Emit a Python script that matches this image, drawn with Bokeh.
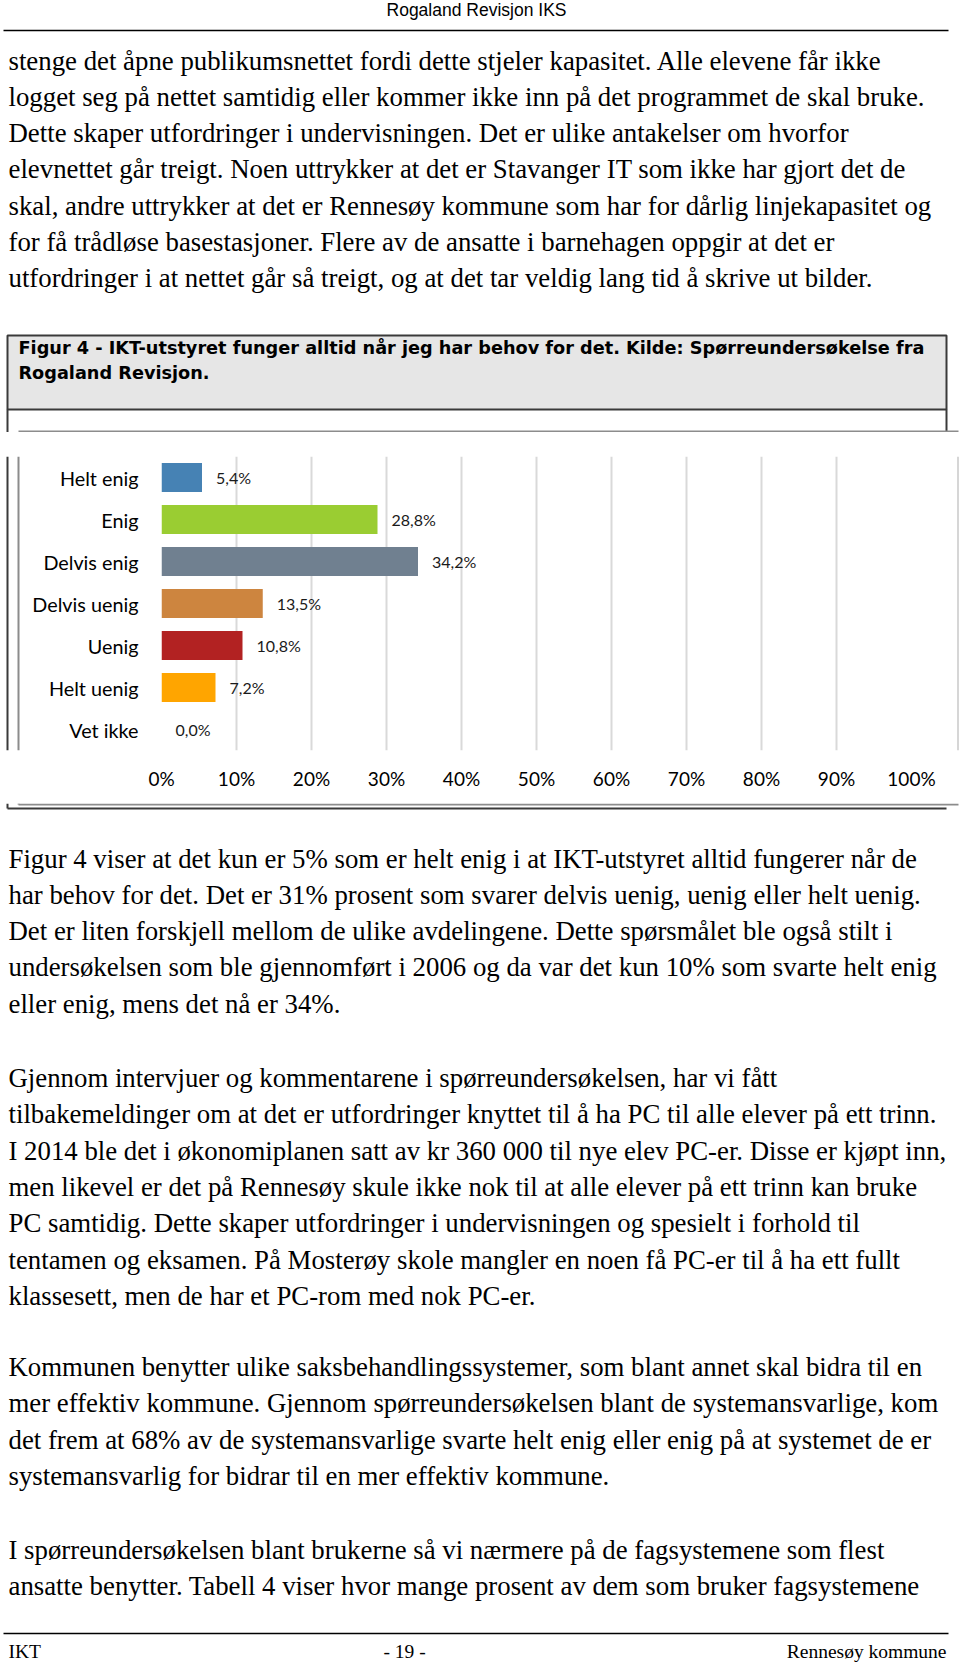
from bokeh.plotting import figure
from bokeh.models import Range1d, FactorRange, FixedTicker, PrintfTickFormatter, ColumnDataSource
from bokeh.layouts import column, row
from bokeh.embed import file_html
from bokeh.resources import INLINE
from bokeh.core.properties import value

# ---------------- data ----------------
categories = ["Helt enig", "Enig", "Delvis enig", "Delvis uenig", "Uenig", "Helt uenig", "Vet ikke"]
percentages = [5.4, 28.8, 34.2, 13.5, 10.8, 7.2, 0.0]
bar_colors = ["steelblue", "yellowgreen", "slategray", "peru", "firebrick", "orange", "orange"]
x_ticks = [0, 10, 20, 30, 40, 50, 60, 70, 80, 90, 100]

header_text = "Rogaland Revisjon IKS"
top_lines = [
    "stenge det åpne publikumsnettet fordi dette stjeler kapasitet. Alle elevene får ikke",
    "logget seg på nettet samtidig eller kommer ikke inn på det programmet de skal bruke.",
    "Dette skaper utfordringer i undervisningen. Det er ulike antakelser om hvorfor",
    "elevnettet går treigt. Noen uttrykker at det er Stavanger IT som ikke har gjort det de",
    "skal, andre uttrykker at det er Rennesøy kommune som har for dårlig linjekapasitet og",
    "for få trådløse basestasjoner. Flere av de ansatte i barnehagen oppgir at det er",
    "utfordringer i at nettet går så treigt, og at det tar veldig lang tid å skrive ut bilder.",
]
caption_lines = [
    "Figur 4 - IKT-utstyret funger alltid når jeg har behov for det. Kilde: Spørreundersøkelse fra",
    "Rogaland Revisjon.",
]
para1 = [
    "Figur 4 viser at det kun er 5% som er helt enig i at IKT-utstyret alltid fungerer når de",
    "har behov for det. Det er 31% prosent som svarer delvis uenig, uenig eller helt uenig.",
    "Det er liten forskjell mellom de ulike avdelingene. Dette spørsmålet ble også stilt i",
    "undersøkelsen som ble gjennomført i 2006 og da var det kun 10% som svarte helt enig",
    "eller enig, mens det nå er 34%.",
]
para2 = [
    "Gjennom intervjuer og kommentarene i spørreundersøkelsen, har vi fått",
    "tilbakemeldinger om at det er utfordringer knyttet til å ha PC til alle elever på ett trinn.",
    "I 2014 ble det i økonomiplanen satt av kr 360 000 til nye elev PC-er. Disse er kjøpt inn,",
    "men likevel er det på Rennesøy skule ikke nok til at alle elever på ett trinn kan bruke",
    "PC samtidig. Dette skaper utfordringer i undervisningen og spesielt i forhold til",
    "tentamen og eksamen. På Mosterøy skole mangler en noen få PC-er til å ha ett fullt",
    "klassesett, men de har et PC-rom med nok PC-er.",
]
para3 = [
    "Kommunen benytter ulike saksbehandlingssystemer, som blant annet skal bidra til en",
    "mer effektiv kommune. Gjennom spørreundersøkelsen blant de systemansvarlige, kom",
    "det frem at 68% av de systemansvarlige svarte helt enig eller enig på at systemet de er",
    "systemansvarlig for bidrar til en mer effektiv kommune.",
]
para4 = [
    "I spørreundersøkelsen blant brukerne så vi nærmere på de fagsystemene som flest",
    "ansatte benytter. Tabell 4 viser hvor mange prosent av dem som bruker fagsystemene",
]
footer_left, footer_mid, footer_right = "IKT", "- 19 -", "Rennesøy kommune"

# ---------------- styling ----------------
SERIF = "Liberation Serif"
BODY_SIZE = 26.8
LINE_H = 36.3
DARK = "#3a3a3a"
GREY = "#8c8c8c"


def page_fig(y0, y1, x0=0, x1=960):
    f = figure(width=int(x1 - x0), height=int(y1 - y0), x_range=Range1d(x0, x1),
               y_range=Range1d(y1, y0), output_backend="svg", toolbar_location=None,
               min_border=0, outline_line_color=None, background_fill_color="white",
               border_fill_color="white")
    f.axis.visible = False
    f.grid.visible = False
    return f


def body_lines(f, lines, y_first, x=8):
    ys = [y_first + i * LINE_H for i in range(len(lines))]
    f.text(x=[x] * len(lines), y=ys, text=lines, text_font=value(SERIF),
           text_font_size=f"{BODY_SIZE}px", text_align="left", text_baseline="alphabetic",
           text_color="black")


# ---------------- top part (page y 0..432) ----------------
top = page_fig(0, 432)
top.text(x=[476], y=[9], text=[header_text], text_font=value("Liberation Sans"),
         text_font_size="17.5px", text_align="center", text_baseline="middle", text_color="black")
top.segment(x0=[3], y0=[30], x1=[948], y1=[30], line_color="black", line_width=1.5)
body_lines(top, top_lines, 60)
# caption box
top.quad(left=[7], right=[946], top=[335], bottom=[409], fill_color="#e6e6e6",
         line_color=DARK, line_width=2)
top.text(x=[18, 18], y=[347, 372.5], text=caption_lines, text_font=value("DejaVu Sans"),
         text_font_style="bold", text_font_size="17.7px", text_align="left",
         text_baseline="middle", text_color="black")
# outer frame sides below caption
top.segment(x0=[7, 946], y0=[409, 409], x1=[7, 946], y1=[432, 431], line_color=DARK, line_width=2)
# chart frame top line
top.segment(x0=[18], y0=[431], x1=[958], y1=[431], line_color=GREY, line_width=2)

# ---------------- chart row (page y 432..803) ----------------
strip_l = page_fig(432, 803, 0, 20)
strip_l.segment(x0=[7, 18], y0=[432, 432], x1=[7, 18], y1=[803, 803],
                line_color=[DARK, GREY], line_width=2)
strip_r = page_fig(432, 803, 950, 960)
strip_r.segment(x0=[957.5], y0=[432], x1=[957.5], y1=[803], line_color="#c8c8c8", line_width=1.5)

src = ColumnDataSource(dict(cat=categories, val=percentages, color=bar_colors,
                            label=[f"{v:.1f}%".replace(".", ",") for v in percentages]))

chart = figure(width=930, height=371, y_range=FactorRange(factors=list(reversed(categories)),
               range_padding=0), x_range=Range1d(0, 100), output_backend="svg",
               toolbar_location=None, min_border_left=141, min_border_right=39,
               min_border_top=24, min_border_bottom=53, outline_line_color=None,
               background_fill_color="white", border_fill_color="white")
chart.hbar(y="cat", right="val", left=0, height=0.69, fill_color="color", line_color=None,
           source=src)
chart.text(x="val", y="cat", text="label", source=src, x_offset=14, text_align="left",
           text_baseline="middle", text_font=value("Lato"), text_font_size="16px",
           text_color="#1a1a1a")

chart.xaxis.ticker = FixedTicker(ticks=x_ticks)
chart.xaxis.formatter = PrintfTickFormatter(format="%d%%")
chart.xaxis.axis_line_color = None
chart.xaxis.major_tick_line_color = None
chart.xaxis.minor_tick_line_color = None
chart.xaxis.major_label_standoff = 10
chart.xaxis.major_label_text_font = "Lato"
chart.xaxis.major_label_text_font_size = "19px"
chart.xaxis.major_label_text_color = "black"

chart.yaxis.axis_line_color = None
chart.yaxis.major_tick_line_color = None
chart.yaxis.minor_tick_line_color = None
chart.yaxis.major_label_standoff = 17
chart.yaxis.major_label_text_font = "Lato"
chart.yaxis.major_label_text_font_size = "19.8px"
chart.yaxis.major_label_text_color = "black"

chart.xgrid.ticker = FixedTicker(ticks=x_ticks)
chart.xgrid.grid_line_color = "#d9d9d9"
chart.xgrid.grid_line_width = 2
chart.ygrid.grid_line_color = None

# ---------------- bottom part (page y 803..1663) ----------------
bot = page_fig(803, 1663)
bot.segment(x0=[18], y0=[804], x1=[958], y1=[804], line_color=GREY, line_width=2)
bot.segment(x0=[7], y0=[808], x1=[946], y1=[808], line_color=DARK, line_width=2)
bot.segment(x0=[7, 18], y0=[803, 803], x1=[7, 18], y1=[808, 804], line_color=[DARK, GREY],
            line_width=2)
body_lines(bot, para1, 858)
body_lines(bot, para2, 1077.5)
body_lines(bot, para3, 1366.5)
body_lines(bot, para4, 1549)
bot.segment(x0=[3], y0=[1633], x1=[948], y1=[1633], line_color="black", line_width=1.5)
bot.text(x=[8], y=[1651], text=[footer_left], text_font=value(SERIF), text_font_size="19.5px",
         text_align="left", text_baseline="middle", text_color="black")
bot.text(x=[404], y=[1651], text=[footer_mid], text_font=value(SERIF), text_font_size="19.5px",
         text_align="center", text_baseline="middle", text_color="black")
bot.text(x=[946], y=[1651], text=[footer_right], text_font=value(SERIF), text_font_size="19.5px",
         text_align="right", text_baseline="middle", text_color="black")

layout = column(top, row(strip_l, chart, strip_r, spacing=0), bot, spacing=0)
open("out.html", "w").write(file_html(layout, INLINE))
